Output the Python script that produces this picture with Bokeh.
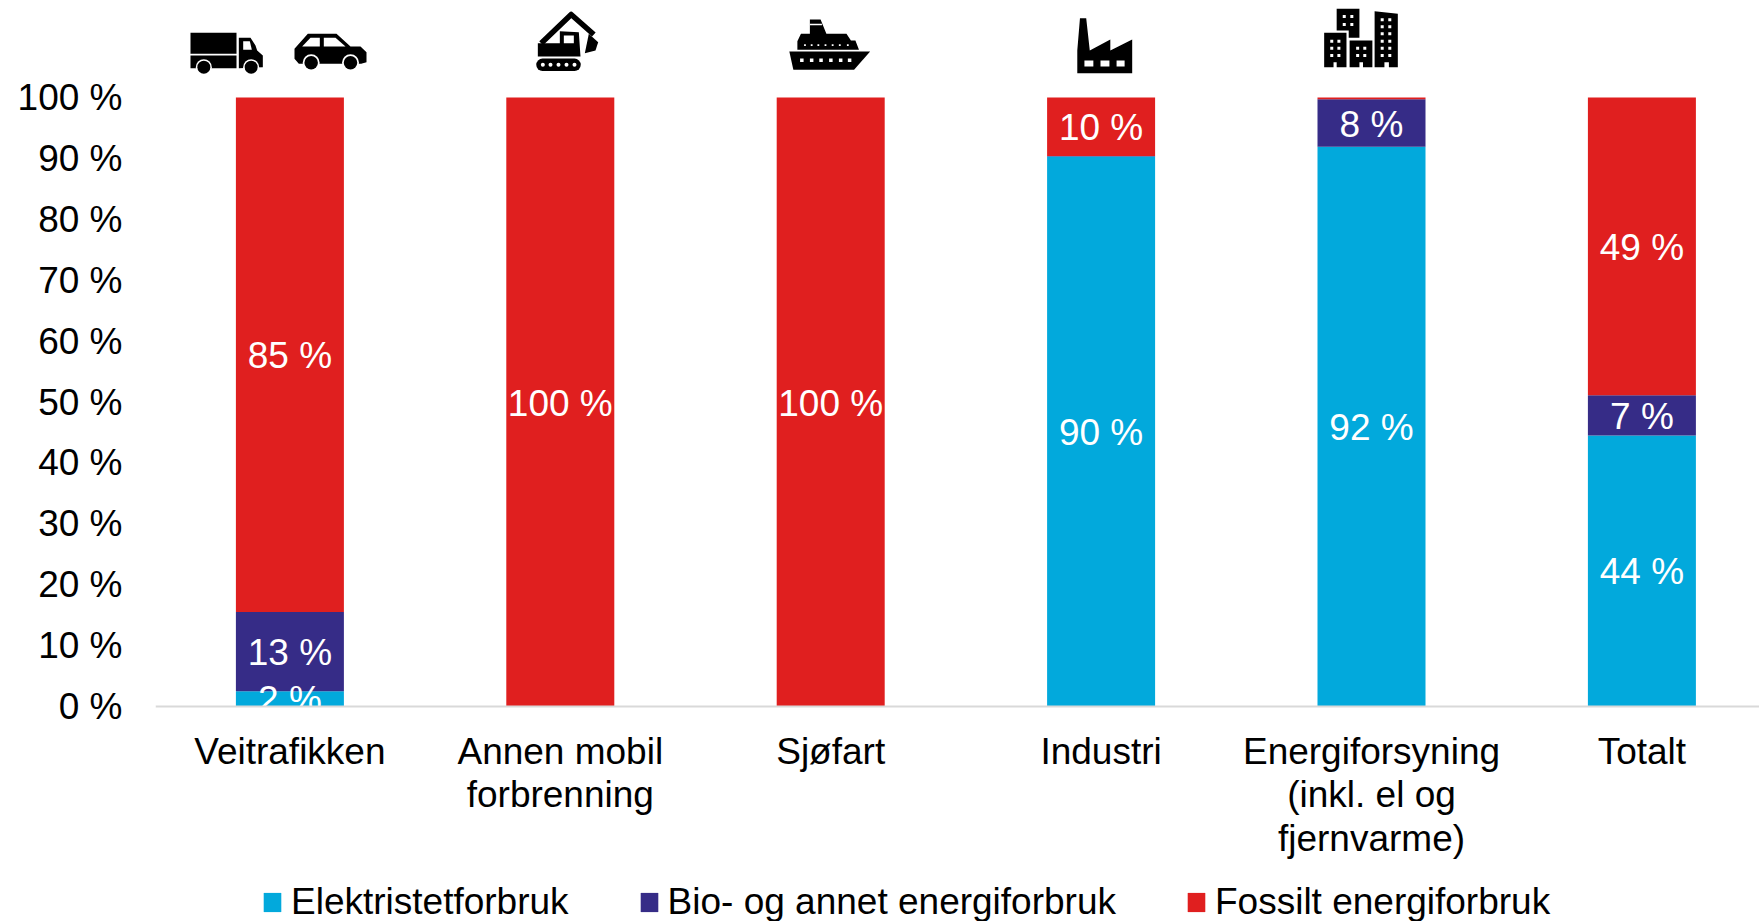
from bokeh.plotting import figure
from bokeh.models import (ColumnDataSource, Range1d, LinearAxis, FixedTicker, PrintfTickFormatter,
                          Legend, LegendItem)
from bokeh.core.properties import value
from bokeh.embed import file_html
from bokeh.resources import INLINE

categories = ["Veitrafikken", "Annen mobil\nforbrenning", "Sjøfart", "Industri",
              "Energiforsyning\n(inkl. el og\nfjernvarme)", "Totalt"]
elektrisitet = [2.5, 0, 0, 90.3, 91.9, 44.5]
bio = [13.0, 0, 0, 0.1, 7.8, 6.6]
fossilt = [84.5, 100, 100, 9.6, 0.3, 48.9]
label_elektrisitet = ["2 %", "", "", "90 %", "92 %", "44 %"]
label_bio = ["13 %", "", "", "", "8 %", "7 %"]
label_fossilt = ["85 %", "100 %", "100 %", "10 %", "", "49 %"]
series_names = ["Elektristetforbruk", "Bio- og annet energiforbruk", "Fossilt energiforbruk"]
colors = ["#02A9DC", "#362C87", "#E01F1F"]
FONT = "Liberation Sans"
FS = "37px"

W, H = 1759, 921
LEFT, BASE, TOP100 = 155, 706, 97
x0, step = 289.4, 270.4
unit = (BASE - TOP100) / 100   # pixels per percentage point

# the frame runs down to the picture's bottom edge, so the legend is not clipped;
# the x axis stays at value 0 through fixed_location
p = figure(width=W, height=H, output_backend="svg", toolbar_location=None,
           frame_width=W - LEFT, frame_height=H,
           x_range=Range1d((LEFT - x0) / step, (W - x0) / step),
           y_range=Range1d(-(H - BASE) / unit, BASE / unit),
           x_axis_location=None, y_axis_location=None,
           min_border_left=LEFT, min_border_right=0, min_border_top=0,
           min_border_bottom=0, outline_line_color=None)
p.grid.visible = False
p.background_fill_color = "white"

# pixel ranges for the pictograms above the bars
p.extra_x_ranges["px"] = Range1d(LEFT, W)
p.extra_y_ranges["py"] = Range1d(H, 0)

xs = list(range(len(categories)))
b1 = [a + b for a, b in zip(elektrisitet, bio)]
b2 = [a + b for a, b in zip(b1, fossilt)]
src = ColumnDataSource(dict(x=xs, b0=elektrisitet, b1=b1, b2=b2))
zero = [0] * len(xs)
src.data["z"] = zero
BW = 108 / step
r1 = p.vbar(x="x", bottom="z", top="b0", width=BW, source=src, fill_color=colors[0], line_color=None)
r2 = p.vbar(x="x", bottom="b0", top="b1", width=BW, source=src, fill_color=colors[1], line_color=None)
r3 = p.vbar(x="x", bottom="b1", top="b2", width=BW, source=src, fill_color=colors[2], line_color=None)

# data labels
for bottoms, tops, labs in [(zero, elektrisitet, label_elektrisitet), (elektrisitet, b1, label_bio), (b1, b2, label_fossilt)]:
    ls = ColumnDataSource(dict(x=xs, y=[(a + b) / 2 for a, b in zip(bottoms, tops)], t=labs))
    p.text(x="x", y="y", text="t", source=ls, text_color="white", text_font=value(FONT),
           text_font_size=value(FS), text_align="center", text_baseline="middle", y_offset=1)

# axes
xa = LinearAxis(ticker=FixedTicker(ticks=xs), major_label_overrides={i: c for i, c in enumerate(categories)},
                fixed_location=0)
xa.major_tick_line_color = None
xa.minor_tick_line_color = None
xa.axis_line_color = "#D9D9D9"
xa.axis_line_width = 2
xa.major_label_text_font = FONT
xa.major_label_text_font_size = FS
xa.major_label_text_color = "black"
xa.major_label_text_line_height = 1.07
xa.major_label_standoff = 18
xa.major_label_orientation = "horizontal"
p.add_layout(xa, "below")

ya = LinearAxis(ticker=FixedTicker(ticks=list(range(0, 101, 10))), formatter=PrintfTickFormatter(format="%d %%"))
ya.major_tick_line_color = None
ya.minor_tick_line_color = None
ya.axis_line_color = None
ya.major_label_text_font = FONT
ya.major_label_text_font_size = FS
ya.major_label_text_color = "black"
ya.major_label_standoff = 27
p.add_layout(ya, "left")

legend = Legend(items=[LegendItem(label=value(n), renderers=[r]) for n, r in zip(series_names, [r1, r2, r3])],
                orientation="horizontal", location=(106, -2), padding=0, margin=0,
                glyph_width=22, glyph_height=24, label_standoff=8, spacing=69,
                background_fill_alpha=0, border_line_color=None,
                label_text_font=FONT, label_text_font_size=FS, label_text_color="black")
p.add_layout(legend)

# ---- pictograms, traced in zoomed-crop coordinates ----
def icon(polys, ox, sx, sy, color="black"):
    xx = [[ox + a / sx for a, _ in poly] for poly in polys]
    yy = [[b / sy for _, b in poly] for poly in polys]
    p.patches(xx, yy, fill_color=color, line_color=None, x_range_name="px", y_range_name="py")

def rect(x1, y1, x2, y2):
    return [(x1, y1), (x2, y1), (x2, y2), (x1, y2)]

def dots(pts, ox, sx, sy, size, color="white", marker="circle"):
    p.scatter([ox + a / sx for a, _ in pts], [b / sy for _, b in pts], size=size, marker=marker,
              fill_color=color, line_color=None, x_range_name="px", y_range_name="py")

A = (150, 3, 3)
# truck
icon([rect(120, 97, 258, 160), rect(120, 165, 258, 203),
      [(265, 112), (300, 112), (315, 135), (320, 150), (337, 165), (337, 200), (265, 203)]], *A)
icon([[(278, 122), (298, 122), (304, 148), (278, 148)]], *A, color="white")
dots([(160, 200), (302, 200)], *A, 16)
dots([(160, 200), (302, 200)], *A, 13, color="black")
# car
icon([[(432, 145), (472, 100), (558, 100), (600, 138), (630, 138), (648, 155), (648, 185), (632, 190), (445, 190), (432, 175)]], *A)
icon([[(455, 138), (480, 112), (508, 112), (508, 138)], [(520, 112), (555, 112), (585, 138), (520, 138)]], *A, color="white")
dots([(482, 187), (600, 187)], *A, 17)
dots([(482, 187), (600, 187)], *A, 13.5, color="black")
# excavator
p.line([150 + 1172 / 3, 150 + 1262 / 3, 150 + 1330 / 3], [128 / 3, 42 / 3, 102 / 3], line_width=5.5, line_color="black",
       line_join="round", x_range_name="px", y_range_name="py")
icon([[(1162, 128), (1228, 128), (1228, 92), (1285, 95), (1290, 168), (1162, 168)],
      [(1315, 100), (1343, 125), (1335, 150), (1303, 158)]], *A)
icon([rect(1240, 105, 1270, 128)], *A, color="white")
p.line([150 + 1176 / 3, 150 + 1272 / 3], [193 / 3, 193 / 3], line_width=12.5, line_color="black", line_cap="round",
       x_range_name="px", y_range_name="py")
dots([(x, 193) for x in (1177, 1200, 1224, 1248, 1272)], *A, 4)

B = (750, 2.24, 3)
# ship
icon([[(87, 153), (268, 153), (232, 208), (96, 208)],
      [(105, 148), (105, 122), (113, 100), (133, 100), (133, 57), (157, 57), (170, 100), (215, 100), (225, 120), (235, 120), (243, 148)]], *B)
icon([rect(133, 70, 160, 74)], *B, color="white")
dots([(x, 179) for x in (115, 137, 158, 180, 202, 222)], *B, 3.5, marker="square")
dots([(x, 134) for x in (122, 137, 152, 168, 184, 200, 218)], *B, 1.8, marker="square")
# factory
icon([[(732, 218), (732, 150), (738, 53), (752, 53), (760, 150), (806, 117), (806, 150), (855, 117), (855, 218)]], *B)
icon([rect(748, 180, 768, 198), rect(784, 180, 804, 198), rect(820, 180, 838, 198)], *B, color="white")
# buildings
icon([[(1285, 97), (1335, 97), (1335, 200), (1313, 200), (1313, 185), (1306, 185), (1306, 200), (1285, 200)],
      [(1313, 25), (1364, 25), (1364, 112), (1340, 112), (1340, 90), (1313, 90)],
      [(1342, 120), (1393, 120), (1393, 200), (1372, 200), (1372, 185), (1364, 185), (1364, 200), (1342, 200)],
      [(1398, 32), (1450, 40), (1450, 200), (1430, 200), (1430, 185), (1420, 185), (1420, 200), (1398, 200)]], *B)
win = [(x, y) for x in (1302, 1318) for y in (122, 143, 165)] + [(x, y) for x in (1330, 1347) for y in (48, 72)] + \
      [(x, y) for x in (1360, 1376) for y in (143, 165)] + [(x, y) for x in (1415, 1432) for y in (58, 79, 100, 122, 143, 165)]
dots(win, *B, 3, marker="square")

open("out.html", "w").write(file_html(p, INLINE))
